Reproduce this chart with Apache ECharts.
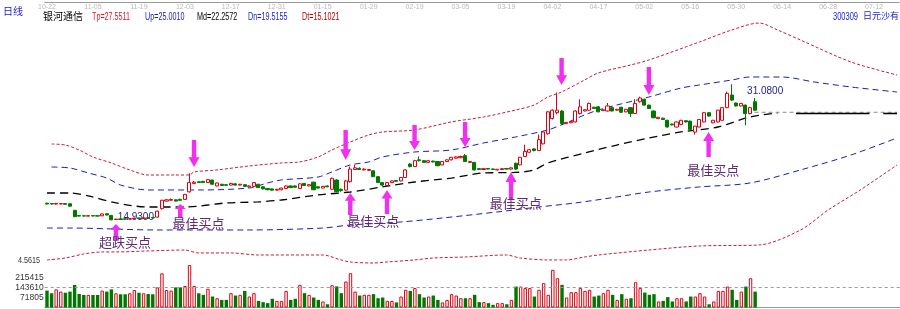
<!DOCTYPE html>
<html><head><meta charset="utf-8">
<script src="https://cdn.jsdelivr.net/npm/echarts@6/dist/echarts.min.js"></script>
<style>html,body{margin:0;padding:0;background:#fff}#c{width:900px;height:309px}</style>
</head><body><div id="c"></div>
<script>
// ---- data ----
const topDates = ['10-22','11-05','11-19','12-03','12-17','12-31','01-15','01-29','02-19','03-05','03-19','04-02','04-17','05-02','05-16','05-30','06-14','06-28','07-12'];
const slotCount = 186; // trading-day slots incl. projected area
// [open, close, low, high]
const ohlc = [
[16.95,16.85,16.8,17.0],[16.92,16.85,16.8,16.95],[16.85,16.92,16.8,17.0],[16.86,16.9,16.82,16.95],[16.9,16.82,16.78,16.95],
[16.88,16.6,16.55,16.92],[16.1,15.35,15.3,16.15],[15.48,15.42,15.38,15.5],[15.46,15.42,15.4,15.5],[15.42,15.46,15.4,15.5],
[15.47,15.43,15.4,15.5],[15.46,15.42,15.38,15.48],[15.45,15.68,15.42,15.72],[15.7,15.55,15.5,15.72],[15.5,14.98,14.93,15.55],
[15.0,15.06,14.98,15.1],[15.08,15.04,15.0,15.1],[15.1,15.05,15.02,15.12],[15.05,15.12,15.02,15.15],[15.1,15.18,15.08,15.22],
[15.2,15.12,15.1,15.22],[15.12,15.2,15.1,15.25],[15.22,15.15,15.12,15.25],[15.25,15.2,15.15,15.3],[15.3,16.0,15.25,16.05],
[16.3,17.3,16.2,17.35],[17.2,17.35,17.15,17.45],[17.3,17.4,17.25,17.5],[17.35,17.2,17.15,17.4],[17.4,17.3,17.25,17.5],
[17.4,18.0,17.35,18.05],[18.3,19.4,18.2,20.5],[19.3,19.45,19.2,19.6],[19.5,19.4,19.35,19.55],[19.55,19.4,19.35,19.6],
[19.4,19.75,19.35,19.8],[19.7,19.2,19.15,19.75],[19.0,19.35,18.95,19.4],[19.2,19.05,19.0,19.25],[19.15,19.08,19.0,19.2],
[19.1,19.3,19.05,19.35],[19.25,19.1,19.05,19.3],[19.1,19.2,19.05,19.25],[19.15,18.95,18.9,19.2],[18.9,19.0,18.85,19.05],
[18.95,19.4,18.9,19.45],[19.2,18.8,18.75,19.25],[18.9,18.65,18.6,18.95],[18.7,18.55,18.5,18.75],[18.65,18.5,18.45,18.7],
[18.5,18.6,18.45,18.65],[18.55,18.75,18.5,18.8],[18.7,19.0,18.65,19.05],[19.0,18.8,18.75,19.05],[19.0,18.85,18.8,19.05],
[18.7,19.25,18.65,19.3],[19.3,19.05,19.0,19.35],[19.0,19.15,18.95,19.2],[19.45,18.55,18.5,19.5],[18.9,18.75,18.7,18.95],
[18.75,18.95,18.7,19.0],[19.0,18.9,18.85,19.05],[18.6,19.9,18.55,20.0],[19.7,18.3,18.25,19.8],[18.6,18.45,18.3,18.7],
[18.5,19.6,18.45,19.7],[19.5,21.0,19.4,21.3],[20.95,21.15,20.9,21.5],[21.1,20.95,20.9,21.2],[20.9,21.0,20.85,21.1],
[20.85,20.95,20.8,21.0],[20.8,20.1,20.05,20.85],[20.1,19.4,19.35,20.15],[19.4,19.1,19.0,19.45],[19.05,19.4,19.0,19.45],
[19.4,19.6,19.35,19.65],[19.65,19.55,19.5,19.7],[19.6,20.0,19.55,20.05],[20.0,20.9,19.95,21.0],[21.6,21.3,21.2,21.7],
[21.3,22.0,21.25,22.1],[22.1,22.0,21.9,22.5],[22.0,21.8,21.75,22.05],[21.8,22.0,21.75,22.05],[21.95,21.85,21.8,22.0],
[21.9,21.4,21.35,21.95],[21.5,21.9,21.45,21.95],[21.9,22.1,21.85,22.15],[22.1,22.4,22.05,22.45],[22.3,22.45,22.25,22.5],
[22.35,22.5,22.3,22.6],[22.6,21.9,21.85,22.8],[21.8,21.9,21.75,21.95],[21.8,20.9,20.85,21.85],[21.05,20.95,20.9,21.1],
[20.95,21.05,20.9,21.1],[21.08,21.0,20.95,21.1],[21.02,20.95,20.9,21.05],[20.9,20.98,20.85,21.0],[20.95,21.05,20.9,21.1],
[21.08,21.0,20.95,21.1],[21.0,21.15,20.95,21.2],[21.7,21.0,20.9,21.75],[21.5,22.4,21.45,22.45],[22.5,23.1,22.45,23.9],
[23.0,23.3,22.95,23.4],[23.4,23.2,23.1,23.5],[23.2,24.5,23.15,25.1],[24.0,25.4,23.95,25.5],[25.2,27.8,25.1,27.9],
[27.0,28.0,26.9,28.1],[27.7,28.0,27.5,30.1],[27.9,26.4,26.3,28.0],[26.4,26.55,26.35,26.6],[26.5,26.65,26.45,26.7],
[26.6,27.9,26.55,28.0],[27.6,28.4,27.5,29.3],[27.9,28.05,27.85,28.1],[28.0,28.8,27.95,28.9],[28.35,28.2,28.15,28.4],
[28.4,27.8,27.75,28.45],[27.95,28.05,27.9,28.1],[27.9,28.5,27.85,28.85],[28.3,27.9,27.85,28.35],[28.0,28.1,27.95,28.15],
[28.35,27.75,27.7,28.4],[27.8,28.1,27.75,28.15],[28.3,27.6,27.2,28.35],[27.6,28.8,27.55,29.3],[29.0,29.45,28.9,29.6],
[29.3,28.6,28.55,29.35],[28.6,28.2,28.15,28.65],[27.9,27.1,27.05,27.95],[27.0,27.15,26.95,27.2],[27.05,26.9,26.85,27.1],
[26.8,26.0,25.95,26.85],[26.35,26.25,26.2,26.4],[26.0,26.6,25.95,26.65],[26.3,26.8,26.25,26.85],[26.75,26.6,26.55,26.8],
[26.7,25.7,25.65,26.75],[25.4,26.1,25.1,26.15],[26.0,26.9,25.95,26.95],[26.6,27.7,26.55,27.75],[27.7,27.3,27.25,27.75],
[26.5,26.8,26.45,26.85],[26.6,28.0,26.55,28.05],[26.8,28.3,26.75,28.35],[28.3,30.0,28.25,30.2],[29.8,29.2,29.1,31.08],
[28.85,28.5,28.45,28.9],[28.5,28.8,28.45,28.85],[28.6,27.6,26.2,28.65],[27.6,28.3,27.5,28.4],[29.0,28.0,27.9,29.45]
];
const volumes = [
120000,101000,129000,113000,105000,113000,160000,96000,89000,89000,89000,89000,120000,113000,129000,101000,94000,94000,101000,124000,
105000,101000,96000,94000,143000,243000,124000,120000,143000,143000,153000,302000,153000,101000,
90000,133000,78000,66000,54000,54000,102000,85000,90000,118000,78000,102000,47000,38000,31000,62000,
47000,47000,118000,54000,62000,161000,102000,90000,71000,54000,43000,23000,158000,150000,102000,185000,244000,113000,85000,90000,
90000,95000,66000,71000,47000,47000,36000,78000,126000,118000,138000,95000,71000,78000,85000,54000,36000,54000,95000,85000,
66000,66000,66000,90000,38000,38000,31000,19000,31000,31000,23000,54000,149000,149000,138000,138000,78000,126000,173000,90000,
268000,208000,161000,71000,109000,109000,138000,118000,126000,78000,85000,102000,126000,90000,54000,95000,62000,66000,180000,138000,
106000,90000,95000,43000,47000,74000,43000,66000,66000,43000,78000,78000,102000,78000,23000,43000,118000,118000,149000,126000,
54000,113000,149000,208000,113000
];
const volTicks = [71805, 143610, 215415];
// band lines: [slot index, price]
const tpLine = [[0.7,23.98],[4,23.86],[7,23.27],[10,22.44],[14,21.73],[18,20.9],[22,20.3],[28,20.3],[31,20.3],[32,20.66],[37,20.9],[44,21.37],[51,21.73],[55,21.85],[59,22.44],[62,23.27],[66,24.22],[70,25.05],[73,25.41],[80,25.65],[88,26.6],[95,27.19],[102,28.02],[106,28.61],[109,29.56],[112,30.16],[117,31.58],[120,32.42],[127,33.36],[131,33.96],[142,36.1],[149,37.52],[155,38.35],[159,37.52],[164,36.33],[175,33.72],[185,32.18]];
const upLine = [[0.7,21.25],[5,21.13],[9,20.54],[13,19.94],[16,19.11],[22,18.52],[33,18.52],[44,18.76],[48,19.35],[51,19.71],[59,20.06],[62,20.66],[66,21.49],[70,21.85],[73,22.44],[80,23.03],[88,23.27],[95,24.1],[102,24.82],[109,25.65],[113,26.48],[117,27.43],[120,28.02],[124,28.61],[131,29.56],[138,30.63],[142,30.99],[149,31.58],[153,31.94],[160,31.94],[167,31.35],[175,30.75],[185,30.16]];
const mdLine = [[0,18.16],[5,18.16],[9,17.81],[15,16.98],[22,16.5],[30,16.5],[39,16.98],[46,17.1],[51,17.33],[59,17.93],[66,18.28],[73,18.88],[80,19.47],[88,19.94],[95,20.54],[102,20.6],[106,20.9],[109,21.73],[117,22.91],[124,23.86],[131,24.7],[138,25.41],[146,26.0],[153,27.19],[159,27.66]];
const dnLine = [[0,14.0],[5,14.0],[24,13.77],[44,13.77],[60,14.0],[66,14.36],[77,14.72],[86,15.19],[98,15.91],[107,16.5],[115,16.98],[124,17.69],[131,18.28],[142,18.88],[153,19.35],[164,20.9],[175,22.68],[185,24.7]];
const dtLine = [[0,10.21],[4,10.44],[8,10.92],[12,11.16],[15,11.16],[22,11.28],[30,11.39],[33,11.04],[40,11.04],[46,10.8],[60,10.8],[64,10.21],[66,9.97],[71,9.85],[74,9.97],[80,10.21],[84,10.44],[91,10.56],[100,10.8],[103,10.44],[109,10.21],[113,10.21],[117,10.56],[120,10.8],[131,11.39],[142,11.87],[155,11.99],[164,13.77],[170,16.14],[177,18.52],[185,21.49]];
const projLine = [[154,27.75],[185,27.75]];
const projSolidA = [[163,27.6],[179,27.6]];
const projSolidB = [[182,27.6],[185,27.6]];
const header = {name:'银河通信', Tp:'27.5511', Up:'25.0010', Md:'22.2572', Dn:'19.5155', Dt:'15.1021', code:'300309', code2:'日元沙有', period:'日线', side:'4.5615'};
const lowMark = {i:14, p:14.93, text:'14.9300'};
const highMark = {i:149, p:31.08, text:'31.0800'};
// arrows: tip position in data space
const downArrows = [[32,21.25,27],[64.8,22.08,30],[80.3,23.27,25],[90.5,23.63,25],[111.6,30.99,27],[130.5,29.8,28]];
const upArrows = [[15,14.48,16],[29.1,16.86,14],[65.5,18.16,22],[73.7,18.52,24],[101.3,20.66,28],[143.8,25.41,25]];
const notes = [[17,12.35,'超跌买点'],[32.6,14.6,'最佳买点'],[70.7,14.84,'最佳买点'],[102.2,16.98,'最佳买点'],[144.8,20.9,'最佳买点']];

// ---- chart ----
const RED = '#e00010', GREEN = '#007800';
const categories = [];
for (let i = 0; i < slotCount; i++) categories.push('s' + i);

const volData = volumes.map((v, i) => {
  const up = ohlc[i][1] >= ohlc[i][0];
  return {value: v, itemStyle: up ? {color: '#fff', borderColor: RED, borderWidth: 1} : {color: GREEN, borderColor: GREEN, borderWidth: 0}};
});

const downPath = 'path://M3,0L7,0L7,18L10,18L5,28L0,18L3,18Z';
const upPath = 'path://M5,0L10,10L7,10L7,28L3,28L3,10L0,10Z';
const markData = [];
downArrows.forEach(a => markData.push({coord: [a[0], a[1]], symbol: downPath, symbolSize: [11, a[2]], symbolOffset: [0, -a[2] / 2], symbolKeepAspect: false, itemStyle: {color: '#f030f0'}, label: {show: false}}));
upArrows.forEach(a => markData.push({coord: [a[0], a[1]], symbol: upPath, symbolSize: [11, a[2]], symbolOffset: [0, a[2] / 2], symbolKeepAspect: false, itemStyle: {color: '#f030f0'}, label: {show: false}}));
notes.forEach(n => markData.push({coord: [n[0], n[1]], symbol: 'rect', symbolSize: 1, itemStyle: {color: 'rgba(0,0,0,0)'}, label: {show: true, position: 'inside', formatter: n[2], color: '#5e2a72', fontSize: 13, fontFamily: '"Noto Sans CJK SC"'}}));
markData.push({coord: [lowMark.i, lowMark.p], symbol: 'rect', symbolSize: 1, itemStyle: {color: 'rgba(0,0,0,0)'}, label: {show: true, position: 'right', distance: 6, offset: [0, -3], formatter: lowMark.text, color: '#26268a', fontSize: 10, fontFamily: 'Liberation Sans'}});
markData.push({coord: [highMark.i, highMark.p], symbol: 'rect', symbolSize: 1, itemStyle: {color: 'rgba(0,0,0,0)'}, label: {show: true, position: 'right', distance: 15, offset: [0, 7], formatter: highMark.text, color: '#26268a', fontSize: 10, fontFamily: 'Liberation Sans'}});

function band(data, color, dash, width) {
  return {type: 'line', xAxisIndex: 0, yAxisIndex: 0, data: data, symbol: 'none', smooth: 0.3, silent: true,
    lineStyle: {color: color, width: width || 1, type: dash}, z: 1};
}

const narrow = '"Liberation Sans"';
function txt(x, y, text, fill, scale, font) {
  return {type: 'text', x: x, y: y, scaleX: scale, style: {text: text, fill: fill, font: font || ('10px ' + narrow), textVerticalAlign: 'top'}};
}

const option = {
  animation: false,
  backgroundColor: '#fff',
  grid: [
    {left: 44.7, right: 0, top: 12, height: 253},
    {left: 44.7, right: 0, top: 262, bottom: 1.5}
  ],
  xAxis: [
    {type: 'category', gridIndex: 0, data: categories, position: 'top', offset: 10, boundaryGap: true,
      axisLine: {show: true, lineStyle: {color: '#9a9a9a'}}, axisTick: {show: false}, splitLine: {show: false},
      axisLabel: {inside: true, interval: 0, margin: 2, fontSize: 7, color: '#b8b8b8', fontFamily: narrow,
        formatter: (v, idx) => (idx % 10 === 0 && topDates[idx / 10]) ? topDates[idx / 10] : ''}},
    {type: 'category', gridIndex: 1, data: categories, boundaryGap: true,
      axisLine: {show: true, lineStyle: {color: '#9a9a9a'}}, axisTick: {show: false}, axisLabel: {show: false}, splitLine: {show: false}}
  ],
  yAxis: [
    {type: 'value', gridIndex: 0, min: 9.61, max: 39.66, show: false, splitLine: {show: false}},
    {type: 'value', gridIndex: 1, min: 0, max: 323500, interval: 71805, splitLine: {show: false},
      axisLine: {show: false}, axisTick: {show: false},
      axisLabel: {margin: 1, fontSize: 8.5, color: '#333', fontFamily: narrow, showMaxLabel: false,
        formatter: v => volTicks.indexOf(v) >= 0 ? String(v) : ''}}
  ],
  series: [
    band(tpLine, '#c81a3c', [3, 2]),
    band(upLine, '#1e1eb4', [6, 4]),
    band(mdLine, '#000', [8, 5], 1.3),
    band(dnLine, '#1e1eb4', [6, 4]),
    band(dtLine, '#c81a3c', [3, 2]),
    {type: 'line', data: projLine, symbol: 'none', silent: true, lineStyle: {color: '#8a8a8a', width: 1, type: [4, 3]}},
    {type: 'line', data: projSolidA, symbol: 'none', silent: true, lineStyle: {color: '#000', width: 1.5}},
    {type: 'line', data: projSolidB, symbol: 'none', silent: true, lineStyle: {color: '#000', width: 1.5}},
    {type: 'candlestick', xAxisIndex: 0, yAxisIndex: 0, data: ohlc, barWidth: 3.6, z: 5,
      itemStyle: {color: '#fff', color0: GREEN, borderColor: RED, borderColor0: GREEN, borderWidth: 1},
      markPoint: {silent: true, animation: false, data: markData}},
    {type: 'bar', xAxisIndex: 1, yAxisIndex: 1, data: volData, barWidth: 3.4,
      markLine: {silent: true, symbol: 'none', label: {show: false}, lineStyle: {color: '#9a9a9a', type: [3, 3], width: 1},
        data: [{yAxis: volTicks[1]}]}}
  ],
  graphic: [
    txt(3, 6, header.period, '#1a1acc', 1, '10px "Noto Sans CJK SC"'),
    txt(43, 11, header.name, '#000', 1, '10px "Noto Sans CJK SC"'),
    txt(92, 12, 'Tp=' + header.Tp, '#e8141e', 0.72),
    txt(145, 12, 'Up=' + header.Up, '#1a1acc', 0.72),
    txt(197, 12, 'Md=' + header.Md, '#000', 0.72),
    txt(248, 12, 'Dn=' + header.Dn, '#1a1acc', 0.72),
    txt(302, 12, 'Dt=' + header.Dt, '#c00000', 0.72),
    txt(833, 12, header.code, '#1a1acc', 0.75),
    txt(863, 11, header.code2, '#1a1acc', 1, '9px "Noto Sans CJK SC"'),
    txt(18, 256, header.side, '#333', 0.8, '9px ' + narrow)
  ]
};

const chart = echarts.init(document.getElementById('c'), null, {renderer: 'canvas', width: 900, height: 309});
chart.setOption(option);
</script>
</body></html>
